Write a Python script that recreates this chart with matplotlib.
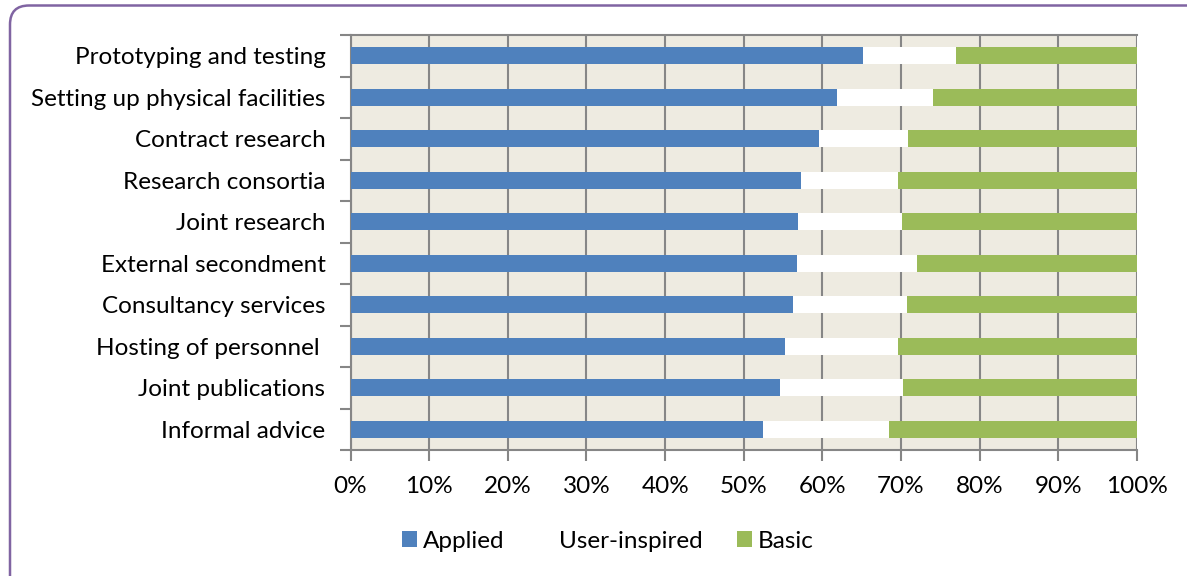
import matplotlib.pyplot as plt
from matplotlib.patches import FancyBboxPatch
import numpy as np

plt.rcParams['font.family'] = ['Lato', 'DejaVu Sans']

# categories from top to bottom
categories = ["Prototyping and testing", "Setting up physical facilities",
              "Contract research", "Research consortia", "Joint research",
              "External secondment", "Consultancy services",
              "Hosting of personnel ", "Joint publications", "Informal advice"]
applied = [65.2, 61.8, 59.6, 57.3, 56.9, 56.8, 56.2, 55.3, 54.6, 52.4]
user_inspired = [11.8, 12.2, 11.3, 12.3, 13.2, 15.2, 14.6, 14.3, 15.7, 16.1]
basic = [100 - a - u for a, u in zip(applied, user_inspired)]
xticks = list(range(0, 101, 10))

FS = 17.5

fig = plt.figure(figsize=(11.87, 5.76), dpi=100)

# rounded purple frame around the chart
frame = FancyBboxPatch((10 / 1187, -0.05), 1.2, 1.05 - 5.5 / 576,
                       boxstyle="round,pad=0,rounding_size=0.016",
                       transform=fig.transFigure, facecolor="none",
                       edgecolor="#8064A2", linewidth=1.8, zorder=5,
                       mutation_aspect=1187 / 576)
fig.patches.append(frame)

ax = fig.add_axes([350.5 / 1187, 1 - 450 / 576, (1137 - 350.5) / 1187, (450 - 35) / 576])
ax.set_facecolor("#EEEBE1")

y = np.arange(len(categories))
h = 0.4
ax.barh(y, applied, height=h, color="#4F81BD", label="Applied", zorder=3)
ax.barh(y, user_inspired, left=applied, height=h, color="white",
        label="User-inspired", zorder=3)
left2 = [a + u for a, u in zip(applied, user_inspired)]
ax.barh(y, basic, left=left2, height=h, color="#9BBB59", label="Basic", zorder=3)

ax.set_xlim(0, 100)
ax.set_ylim(len(categories) - 0.5, -0.5)
ax.set_xticks(xticks)
ax.set_xticklabels([f"{v}%" for v in xticks], fontsize=FS)
ax.set_yticks(y)
ax.set_yticklabels(categories, fontsize=FS)
ax.set_yticks(np.arange(-0.5, len(categories)), minor=True)

ax.tick_params(axis="y", which="major", length=0, pad=18)
ax.tick_params(axis="y", which="minor", length=8, width=1.5, color="#868686")
ax.tick_params(axis="x", which="major", length=8, width=1.5, color="#868686", pad=11)

ax.grid(axis="x", color="#868686", linewidth=1.5, zorder=1)
ax.set_axisbelow(True)
for s in ax.spines.values():
    s.set_color("#868686")
    s.set_linewidth(1.5)
ax.spines["right"].set_visible(False)

fig.legend(loc="center", bbox_to_anchor=(608 / 1187, 1 - 541 / 576), ncol=3,
           frameon=False, fontsize=FS, handlelength=0.6, handleheight=0.6,
           handletextpad=0.25, columnspacing=1.4)

plt.savefig("out.png", dpi=100)
